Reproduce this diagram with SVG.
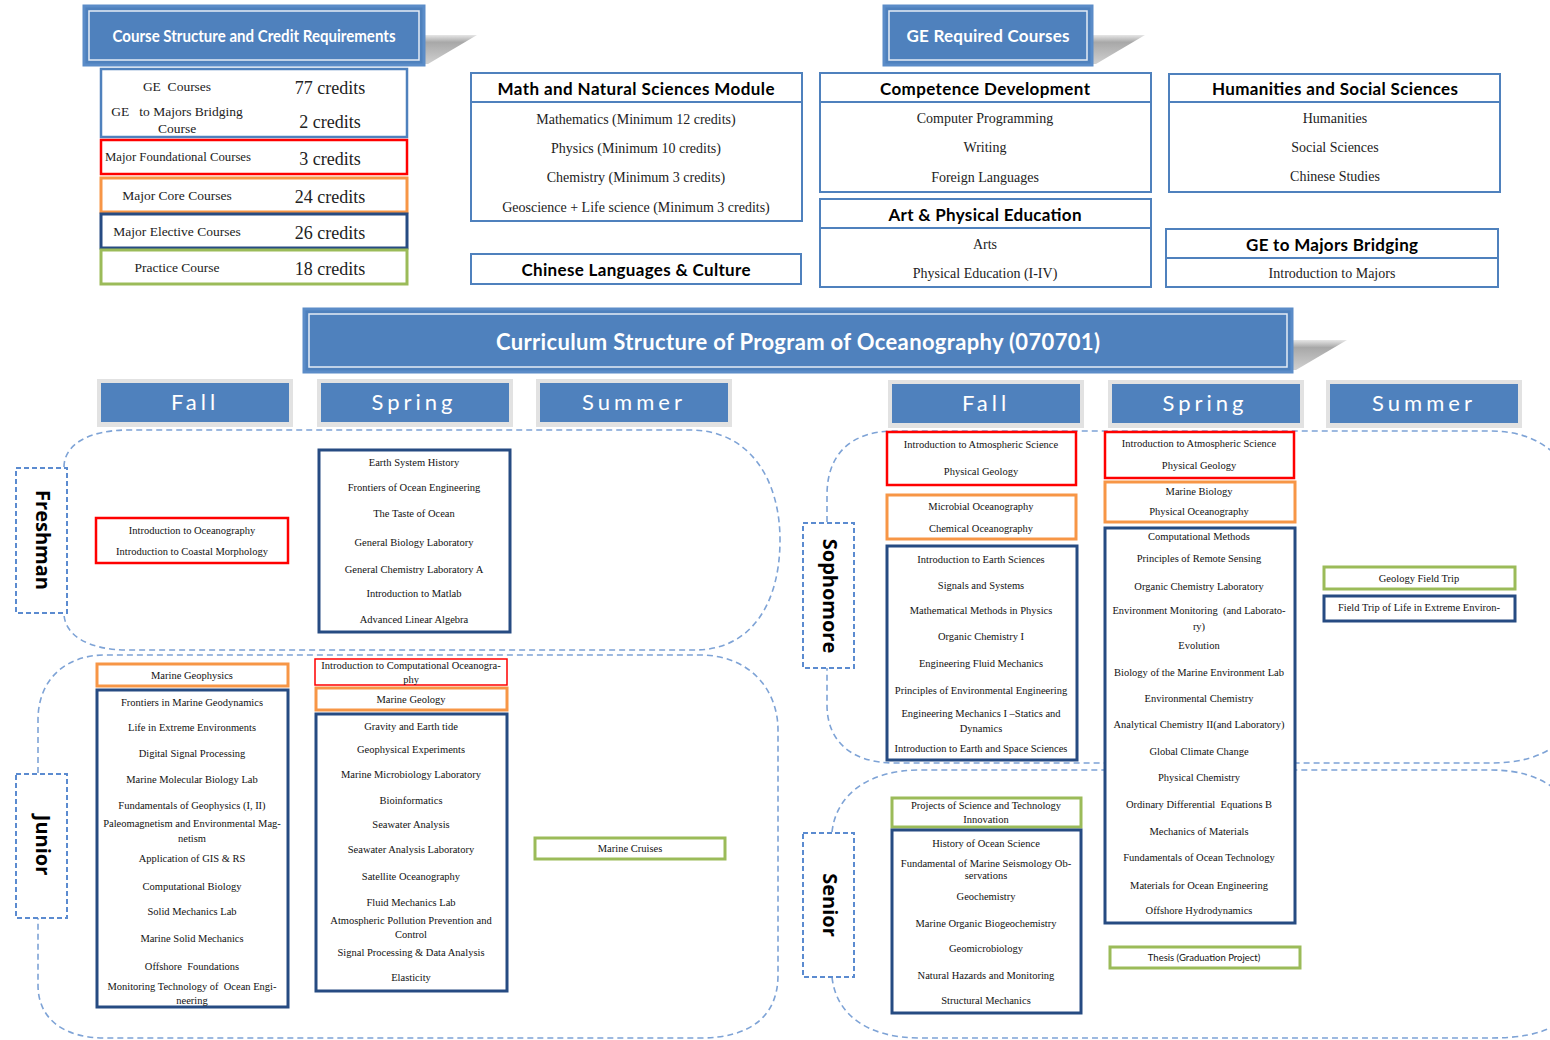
<svg xmlns="http://www.w3.org/2000/svg" width="1550" height="1040" viewBox="0 0 1550 1040">
<defs>
<linearGradient id="shd" x1="0" y1="0" x2="0" y2="1">
<stop offset="0" stop-color="#e6e6e6"/><stop offset="0.25" stop-color="#a8a8a8"/><stop offset="1" stop-color="#d0d0d0"/>
</linearGradient>
<style>
.ban{fill:#4f81bd;stroke:#5b8cc8;stroke-width:3}
.bin{fill:none;stroke:#ffffff;stroke-width:1.5;stroke-opacity:0.85}
.bt{font-family:Lato,"Open Sans",sans-serif;fill:#ffffff;text-anchor:middle}
.mod{fill:#ffffff;stroke:#4f81bd;stroke-width:2}
.mh{font-family:Lato,"Open Sans",sans-serif;font-weight:bold;font-size:17px;fill:#000;text-anchor:middle}
.mi{font-family:"Liberation Serif","Times New Roman",serif;font-size:14px;fill:#222;text-anchor:middle}
.cl{font-family:"Liberation Serif","Times New Roman",serif;font-size:13.5px;fill:#222;text-anchor:middle}
.cr{font-family:"Liberation Serif","Times New Roman",serif;font-size:18px;fill:#222;text-anchor:middle}
.sg{fill:#e2e2e2}
.sb{fill:#4f81bd}
.st{font-family:Lato,"Open Sans",sans-serif;font-size:22px;fill:#ffffff;text-anchor:middle;letter-spacing:4px}
.reg{fill:none;stroke:#7ea3d6;stroke-width:1.6;stroke-dasharray:6 4}
.lab{fill:#ffffff;stroke:#5b8bd0;stroke-width:2;stroke-dasharray:5 3}
.lt{font-family:"Open Sans",Lato,sans-serif;font-weight:bold;font-size:20px;fill:#000;text-anchor:middle}
.r{fill:#ffffff;stroke:#ff0000;stroke-width:2.5}
.o{fill:#ffffff;stroke:#f79646;stroke-width:3}
.d{fill:#ffffff;stroke:#264b82;stroke-width:3}
.g{fill:#ffffff;stroke:#9bbb59;stroke-width:3}
.c{font-family:"Liberation Serif","Times New Roman",serif;font-size:10.5px;fill:#111;text-anchor:middle}
</style>
</defs>

<!-- Banner: Course Structure -->
<g id="banner-credits">
<polygon points="424,35 477,35 428,64 424,64" fill="url(#shd)"/>
<rect class="ban" x="84" y="6" width="340" height="59"/>
<rect class="bin" x="89" y="11" width="330" height="49"/>
<text class="bt" x="254" y="42" font-size="17" font-weight="bold" textLength="283" lengthAdjust="spacingAndGlyphs">Course Structure and Credit Requirements</text>
</g>

<!-- Credits table -->
<g id="credits-table">
<rect x="101" y="69" width="306" height="68" fill="#fff" stroke="#4f81bd" stroke-width="2.5"/>
<text class="cl" x="177" y="91" xml:space="preserve">GE  Courses</text>
<text class="cr" x="330" y="94">77 credits</text>
<text class="cl" x="177" y="116" xml:space="preserve">GE   to Majors Bridging</text>
<text class="cl" x="177" y="133">Course</text>
<text class="cr" x="330" y="128">2 credits</text>
<rect class="r" x="101" y="140" width="306" height="34"/>
<text class="cl" x="178" y="161" textLength="146" lengthAdjust="spacingAndGlyphs">Major Foundational Courses</text>
<text class="cr" x="330" y="165">3 credits</text>
<rect class="o" x="101" y="178" width="306" height="34"/>
<text class="cl" x="177" y="200">Major Core Courses</text>
<text class="cr" x="330" y="203">24 credits</text>
<rect class="d" x="101" y="214" width="306" height="34"/>
<text class="cl" x="177" y="236">Major Elective Courses</text>
<text class="cr" x="330" y="239">26 credits</text>
<rect class="g" x="101" y="250" width="306" height="34"/>
<text class="cl" x="177" y="272">Practice Course</text>
<text class="cr" x="330" y="275">18 credits</text>
</g>

<!-- Banner: GE Required Courses -->
<g id="banner-ge">
<polygon points="1092,35 1145,35 1096,64 1092,64" fill="url(#shd)"/>
<rect class="ban" x="884" y="6" width="208" height="59"/>
<rect class="bin" x="889" y="11" width="198" height="49"/>
<text class="bt" x="988" y="42" font-size="17" font-weight="bold" textLength="163">GE Required Courses</text>
</g>

<g id="mod-math">
<rect class="mod" x="471" y="73" width="331" height="148"/>
<line x1="471" y1="102" x2="802" y2="102" stroke="#4f81bd" stroke-width="2"/>
<text class="mh" x="636" y="95" textLength="277">Math and Natural Sciences Module</text>
<text class="mi" x="636" y="124">Mathematics (Minimum 12 credits)</text>
<text class="mi" x="636" y="153">Physics (Minimum 10 credits)</text>
<text class="mi" x="636" y="182">Chemistry (Minimum 3 credits)</text>
<text class="mi" x="636" y="212">Geoscience + Life science (Minimum 3 credits)</text>
</g>

<g id="mod-chinese">
<rect class="mod" x="471" y="254" width="330" height="30"/>
<text class="mh" x="636" y="276" textLength="229">Chinese Languages &amp; Culture</text>
</g>

<g id="mod-competence">
<rect class="mod" x="820" y="73" width="331" height="119"/>
<line x1="820" y1="102" x2="1151" y2="102" stroke="#4f81bd" stroke-width="2"/>
<text class="mh" x="985" y="95" textLength="210">Competence Development</text>
<text class="mi" x="985" y="123">Computer Programming</text>
<text class="mi" x="985" y="152">Writing</text>
<text class="mi" x="985" y="182">Foreign Languages</text>
</g>

<g id="mod-art">
<rect class="mod" x="820" y="199" width="331" height="88"/>
<line x1="820" y1="228" x2="1151" y2="228" stroke="#4f81bd" stroke-width="2"/>
<text class="mh" x="985" y="221" textLength="193">Art &amp; Physical Education</text>
<text class="mi" x="985" y="249">Arts</text>
<text class="mi" x="985" y="278">Physical Education (I-IV)</text>
</g>

<g id="mod-humanities">
<rect class="mod" x="1169" y="74" width="331" height="118"/>
<line x1="1169" y1="102" x2="1500" y2="102" stroke="#4f81bd" stroke-width="2"/>
<text class="mh" x="1335" y="95" textLength="246">Humanities and Social Sciences</text>
<text class="mi" x="1335" y="123">Humanities</text>
<text class="mi" x="1335" y="152">Social Sciences</text>
<text class="mi" x="1335" y="181">Chinese Studies</text>
</g>

<g id="mod-bridging">
<rect class="mod" x="1166" y="229" width="332" height="58"/>
<line x1="1166" y1="258" x2="1498" y2="258" stroke="#4f81bd" stroke-width="2"/>
<text class="mh" x="1332" y="251" textLength="172">GE to Majors Bridging</text>
<text class="mi" x="1332" y="278">Introduction to Majors</text>
</g>

<!-- Main banner -->
<g id="banner-main">
<polygon points="1292,340 1347,340 1296,370 1292,370" fill="url(#shd)"/>
<rect class="ban" x="304" y="309" width="988" height="63"/>
<rect class="bin" x="309" y="314" width="978" height="53"/>
<text class="bt" x="798" y="350" font-size="22" font-weight="bold" textLength="604">Curriculum Structure of Program of Oceanography (070701)</text>
</g>

<!-- Season headers -->
<g id="season-fall-1"><rect class="sg" x="97" y="379" width="196" height="48"/><rect class="sb" x="101" y="383" width="188" height="39"/><text class="st" x="195" y="410">Fall</text></g>
<g id="season-spring-1"><rect class="sg" x="317" y="379" width="196" height="48"/><rect class="sb" x="321" y="383" width="188" height="39"/><text class="st" x="414" y="410">Spring</text></g>
<g id="season-summer-1"><rect class="sg" x="536" y="379" width="196" height="48"/><rect class="sb" x="540" y="383" width="188" height="39"/><text class="st" x="634" y="410">Summer</text></g>
<g id="season-fall-2"><rect class="sg" x="888" y="380" width="196" height="48"/><rect class="sb" x="892" y="384" width="188" height="39"/><text class="st" x="986" y="411">Fall</text></g>
<g id="season-spring-2"><rect class="sg" x="1108" y="380" width="196" height="48"/><rect class="sb" x="1112" y="384" width="188" height="39"/><text class="st" x="1205" y="411">Spring</text></g>
<g id="season-summer-2"><rect class="sg" x="1326" y="380" width="196" height="48"/><rect class="sb" x="1330" y="384" width="188" height="39"/><text class="st" x="1424" y="411">Summer</text></g>

<!-- Year regions (dashed outlines) -->
<g id="connectors">
<path class="reg" d="M64,467 C64,445 88,430 128,430 L690,430 C750,430 780,480 780,540 C780,605 750,650 695,650 L128,650 C88,650 64,635 64,613"/>
<path class="reg" d="M38,773 L38,720 C38,680 65,655 105,655 L700,655 C750,655 778,690 778,730 L778,975 C778,1015 752,1038 700,1038 L105,1038 C65,1038 38,1020 38,985 L38,918"/>
<path class="reg" d="M827,522 L827,495 C827,455 850,431 895,431 L1490,431 C1520,431 1540,440 1556,455"/>
<path class="reg" d="M1556,745 C1540,757 1520,763 1490,763 L895,763 C850,763 827,740 827,705 L827,668"/>
<path class="reg" d="M832,832 C836,795 868,770 920,770 L1490,770 C1520,770 1540,777 1556,790"/>
<path class="reg" d="M1556,1025 C1540,1034 1520,1038 1490,1038 L920,1038 C868,1038 836,1015 832,977"/>
</g>

<!-- Year labels -->
<g id="label-freshman"><rect class="lab" x="16" y="468" width="51" height="145"/><text class="lt" transform="translate(43,540) rotate(90)" dominant-baseline="central">Freshman</text></g>
<g id="label-junior"><rect class="lab" x="16" y="774" width="51" height="144"/><text class="lt" transform="translate(43,845) rotate(90)" dominant-baseline="central">Junior</text></g>
<g id="label-sophomore"><rect class="lab" x="803" y="523" width="51" height="145"/><text class="lt" transform="translate(830,596) rotate(90)" dominant-baseline="central">Sophomore</text></g>
<g id="label-senior"><rect class="lab" x="803" y="833" width="51" height="144"/><text class="lt" transform="translate(830,905) rotate(90)" dominant-baseline="central">Senior</text></g>

<!-- Freshman -->
<g id="fr-fall-found">
<rect class="r" x="96" y="518" width="192" height="45"/>
<text class="c" x="192" y="534">Introduction to Oceanography</text>
<text class="c" x="192" y="555">Introduction to Coastal Morphology</text>
</g>
<g id="fr-spring-elec">
<rect class="d" x="319" y="450" width="191" height="182"/>
<text class="c" x="414" y="466">Earth System History</text>
<text class="c" x="414" y="491">Frontiers of Ocean Engineering</text>
<text class="c" x="414" y="517">The Taste of Ocean</text>
<text class="c" x="414" y="546">General Biology Laboratory</text>
<text class="c" x="414" y="573">General Chemistry Laboratory A</text>
<text class="c" x="414" y="597">Introduction to Matlab</text>
<text class="c" x="414" y="623">Advanced Linear Algebra</text>
</g>

<!-- Junior -->
<g id="jr-fall-core">
<rect class="o" x="97" y="664" width="191" height="22"/>
<text class="c" x="192" y="679">Marine Geophysics</text>
</g>
<g id="jr-fall-elec">
<rect class="d" x="97" y="690" width="191" height="317"/>
<text class="c" x="192" y="706">Frontiers in Marine Geodynamics</text>
<text class="c" x="192" y="731">Life in Extreme Environments</text>
<text class="c" x="192" y="757">Digital Signal Processing</text>
<text class="c" x="192" y="783">Marine Molecular Biology Lab</text>
<text class="c" x="192" y="809">Fundamentals of Geophysics (I, II)</text>
<text class="c" x="192" y="827">Paleomagnetism and Environmental Mag-</text>
<text class="c" x="192" y="842">netism</text>
<text class="c" x="192" y="862">Application of GIS &amp; RS</text>
<text class="c" x="192" y="890">Computational Biology</text>
<text class="c" x="192" y="915">Solid Mechanics Lab</text>
<text class="c" x="192" y="942">Marine Solid Mechanics</text>
<text class="c" x="192" y="970" xml:space="preserve">Offshore  Foundations</text>
<text class="c" x="192" y="990" xml:space="preserve">Monitoring Technology of  Ocean Engi-</text>
<text class="c" x="192" y="1004">neering</text>
</g>
<g id="jr-spring-found">
<rect x="315" y="659" width="192" height="26" fill="#fff" stroke="#ff0000" stroke-width="1.5"/>
<text class="c" x="411" y="669">Introduction to Computational Oceanogra-</text>
<text class="c" x="411" y="683">phy</text>
</g>
<g id="jr-spring-core">
<rect class="o" x="316" y="688" width="191" height="22"/>
<text class="c" x="411" y="703">Marine Geology</text>
</g>
<g id="jr-spring-elec">
<rect class="d" x="316" y="714" width="191" height="277"/>
<text class="c" x="411" y="730">Gravity and Earth tide</text>
<text class="c" x="411" y="753">Geophysical Experiments</text>
<text class="c" x="411" y="778">Marine Microbiology Laboratory</text>
<text class="c" x="411" y="804">Bioinformatics</text>
<text class="c" x="411" y="828">Seawater Analysis</text>
<text class="c" x="411" y="853">Seawater Analysis Laboratory</text>
<text class="c" x="411" y="880">Satellite Oceanography</text>
<text class="c" x="411" y="906">Fluid Mechanics Lab</text>
<text class="c" x="411" y="924">Atmospheric Pollution Prevention and</text>
<text class="c" x="411" y="938">Control</text>
<text class="c" x="411" y="956">Signal Processing &amp; Data Analysis</text>
<text class="c" x="411" y="981">Elasticity</text>
</g>
<g id="jr-summer-practice">
<rect class="g" x="535" y="838" width="190" height="21"/>
<text class="c" x="630" y="852">Marine Cruises</text>
</g>

<!-- Sophomore -->
<g id="so-fall-found">
<rect class="r" x="887" y="432" width="189" height="53"/>
<text class="c" x="981" y="448">Introduction to Atmospheric Science</text>
<text class="c" x="981" y="475">Physical Geology</text>
</g>
<g id="so-fall-core">
<rect class="o" x="887" y="495" width="189" height="44"/>
<text class="c" x="981" y="510">Microbial Oceanography</text>
<text class="c" x="981" y="532">Chemical Oceanography</text>
</g>
<g id="so-fall-elec">
<rect class="d" x="887" y="546" width="190" height="214"/>
<text class="c" x="981" y="563">Introduction to Earth Sciences</text>
<text class="c" x="981" y="589">Signals and Systems</text>
<text class="c" x="981" y="614">Mathematical Methods in Physics</text>
<text class="c" x="981" y="640">Organic Chemistry I</text>
<text class="c" x="981" y="667">Engineering Fluid Mechanics</text>
<text class="c" x="981" y="694">Principles of Environmental Engineering</text>
<text class="c" x="981" y="717">Engineering Mechanics I –Statics and</text>
<text class="c" x="981" y="732">Dynamics</text>
<text class="c" x="981" y="752">Introduction to Earth and Space Sciences</text>
</g>
<g id="so-spring-found">
<rect class="r" x="1105" y="432" width="189" height="46"/>
<text class="c" x="1199" y="447">Introduction to Atmospheric Science</text>
<text class="c" x="1199" y="469">Physical Geology</text>
</g>
<g id="so-spring-core">
<rect class="o" x="1105" y="482" width="190" height="40"/>
<text class="c" x="1199" y="495">Marine Biology</text>
<text class="c" x="1199" y="515">Physical Oceanography</text>
</g>
<g id="so-spring-elec">
<rect class="d" x="1105" y="528" width="190" height="395"/>
<text class="c" x="1199" y="540">Computational Methods</text>
<text class="c" x="1199" y="562">Principles of Remote Sensing</text>
<text class="c" x="1199" y="590">Organic Chemistry Laboratory</text>
<text class="c" x="1199" y="614" xml:space="preserve">Environment Monitoring  (and Laborato-</text>
<text class="c" x="1199" y="630">ry)</text>
<text class="c" x="1199" y="649">Evolution</text>
<text class="c" x="1199" y="676">Biology of the Marine Environment Lab</text>
<text class="c" x="1199" y="702">Environmental Chemistry</text>
<text class="c" x="1199" y="728">Analytical Chemistry II(and Laboratory)</text>
<text class="c" x="1199" y="755">Global Climate Change</text>
<text class="c" x="1199" y="781">Physical Chemistry</text>
<text class="c" x="1199" y="808" xml:space="preserve">Ordinary Differential  Equations B</text>
<text class="c" x="1199" y="835">Mechanics of Materials</text>
<text class="c" x="1199" y="861">Fundamentals of Ocean Technology</text>
<text class="c" x="1199" y="889">Materials for Ocean Engineering</text>
<text class="c" x="1199" y="914">Offshore Hydrodynamics</text>
</g>
<g id="so-summer-practice">
<rect class="g" x="1324" y="567" width="191" height="22"/>
<text class="c" x="1419" y="582">Geology Field Trip</text>
</g>
<g id="so-summer-elec">
<rect class="d" x="1324" y="596" width="191" height="25"/>
<text class="c" x="1419" y="611">Field Trip of Life in Extreme Environ-</text>
</g>

<!-- Senior -->
<g id="se-fall-practice">
<rect class="g" x="892" y="798" width="189" height="29"/>
<text class="c" x="986" y="809">Projects of Science and Technology</text>
<text class="c" x="986" y="823">Innovation</text>
</g>
<g id="se-fall-elec">
<rect class="d" x="892" y="830" width="189" height="183"/>
<text class="c" x="986" y="847">History of Ocean Science</text>
<text class="c" x="986" y="867">Fundamental of Marine Seismology Ob-</text>
<text class="c" x="986" y="879">servations</text>
<text class="c" x="986" y="900">Geochemistry</text>
<text class="c" x="986" y="927">Marine Organic Biogeochemistry</text>
<text class="c" x="986" y="952">Geomicrobiology</text>
<text class="c" x="986" y="979">Natural Hazards and Monitoring</text>
<text class="c" x="986" y="1004">Structural Mechanics</text>
</g>
<g id="se-spring-practice">
<rect class="g" x="1110" y="947" width="190" height="21"/>
<text x="1204" y="961" font-family="Lato,'Open Sans',sans-serif" font-size="9.5" fill="#111" text-anchor="middle">Thesis (Graduation Project)</text>
</g>
</svg>
